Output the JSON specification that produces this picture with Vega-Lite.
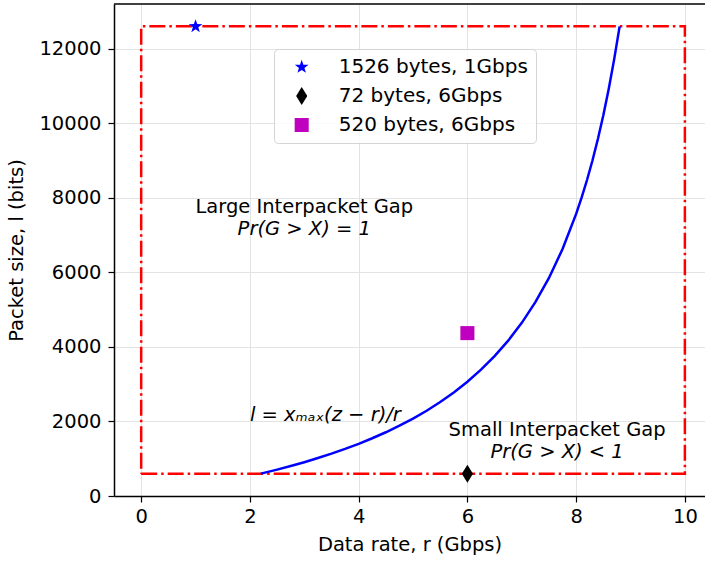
{
  "$schema": "https://vega.github.io/schema/vega-lite/v6.json",
  "width": 591,
  "height": 492,
  "autosize": {"type": "none"},
  "padding": {"left": 114, "top": 4, "right": 0, "bottom": 66},
  "config": {
    "font": "DejaVu Sans",
    "view": {"stroke": null},
    "axis": {
      "labelFont": "DejaVu Sans",
      "titleFont": "DejaVu Sans",
      "labelFontSize": 19.5,
      "titleFontSize": 19.5,
      "titleFontWeight": "normal",
      "labelColor": "black",
      "titleColor": "black",
      "tickColor": "black",
      "domainColor": "black",
      "domainWidth": 1.5,
      "tickWidth": 1.2,
      "tickSize": 6,
      "gridColor": "#e3e3e3",
      "gridWidth": 1
    },
    "legend": {
      "labelFont": "DejaVu Sans",
      "labelFontSize": 20,
      "labelColor": "black",
      "labelLimit": 400
    }
  },
  "datasets": {
    "bounds": [
      {"r": 0, "l": 600, "k": 0},
      {"r": 10, "l": 600, "k": 1},
      {"r": 10, "l": 12600, "k": 2},
      {"r": 0, "l": 12600, "k": 3},
      {"r": 0, "l": 600, "k": 4}
    ],
    "limit": [
      {"r": 2.2, "l": 600},
      {"r": 2.5, "l": 708},
      {"r": 2.8, "l": 824},
      {"r": 3.0, "l": 907},
      {"r": 3.25, "l": 1018},
      {"r": 3.5, "l": 1136},
      {"r": 3.75, "l": 1263},
      {"r": 4.0, "l": 1400},
      {"r": 4.25, "l": 1549},
      {"r": 4.5, "l": 1710},
      {"r": 4.75, "l": 1886},
      {"r": 5.0, "l": 2078},
      {"r": 5.25, "l": 2288},
      {"r": 5.5, "l": 2521},
      {"r": 5.75, "l": 2779},
      {"r": 6.0, "l": 3066},
      {"r": 6.25, "l": 3389},
      {"r": 6.5, "l": 3753},
      {"r": 6.75, "l": 4168},
      {"r": 7.0, "l": 4645},
      {"r": 7.25, "l": 5199},
      {"r": 7.5, "l": 5850},
      {"r": 7.75, "l": 6626},
      {"r": 8.0, "l": 7568},
      {"r": 8.1, "l": 8003},
      {"r": 8.2, "l": 8478},
      {"r": 8.3, "l": 9000},
      {"r": 8.4, "l": 9576},
      {"r": 8.5, "l": 10214},
      {"r": 8.6, "l": 10924},
      {"r": 8.7, "l": 11721},
      {"r": 8.8, "l": 12600}
    ],
    "cases": [
      {"r": 1, "l": 12600, "label": "1526 bytes, 1Gbps"},
      {"r": 6, "l": 600, "label": "72 bytes, 6Gbps"},
      {"r": 6, "l": 4370, "label": "520 bytes, 6Gbps"}
    ],
    "regions": [
      {"r": 3.0, "l": 7600, "txt": "Large Interpacket Gap"},
      {"r": 7.65, "l": 1600, "txt": "Small Interpacket Gap"}
    ],
    "probs": [
      {"r": 3.0, "l": 7010, "txt": "Pr(G > X) = 1"},
      {"r": 7.65, "l": 1010, "txt": "Pr(G > X) < 1"}
    ],
    "formula": [
      {"r": 2.0, "l": 2000, "txt": "l = xₘₐₓ(z − r)/r"}
    ]
  },
  "layer": [
    {
      "data": {"name": "bounds"},
      "mark": {"type": "line", "color": "#ff0000", "strokeWidth": 2.5, "strokeDash": [16, 4, 2.5, 4]},
      "encoding": {
        "x": {
          "field": "r",
          "type": "quantitative",
          "scale": {"domain": [-0.5, 10.37], "nice": false, "zero": false},
          "axis": {
            "title": "Data rate, r (Gbps)",
            "values": [0, 2, 4, 6, 8, 10],
            "grid": true,
            "labelPadding": 5,
            "titlePadding": 10
          }
        },
        "y": {
          "field": "l",
          "type": "quantitative",
          "scale": {"domain": [0, 13200], "nice": false, "zero": false},
          "axis": {
            "title": "Packet size, l (bits)",
            "values": [0, 2000, 4000, 6000, 8000, 10000, 12000],
            "format": "d",
            "grid": true,
            "labelPadding": 7,
            "titlePadding": 12
          }
        },
        "order": {"field": "k", "type": "quantitative"}
      }
    },
    {
      "data": {"name": "limit"},
      "mark": {"type": "line", "color": "#0000ff", "strokeWidth": 2.5},
      "encoding": {
        "x": {"field": "r", "type": "quantitative"},
        "y": {"field": "l", "type": "quantitative"}
      }
    },
    {
      "data": {"name": "cases"},
      "mark": {"type": "point", "filled": true, "opacity": 1, "size": 324, "strokeWidth": 0},
      "encoding": {
        "x": {"field": "r", "type": "quantitative"},
        "y": {"field": "l", "type": "quantitative"},
        "shape": {
          "field": "label",
          "type": "nominal",
          "scale": {
            "domain": ["1526 bytes, 1Gbps", "72 bytes, 6Gbps", "520 bytes, 6Gbps"],
            "range": [
              "M0,-0.8L0.188,-0.259L0.761,-0.247L0.304,0.099L0.47,0.647L0,0.32L-0.47,0.647L-0.304,0.099L-0.761,-0.247L-0.188,-0.259Z",
              "M0,-1L0.62,0L0,1L-0.62,0Z",
              "M-0.78,-0.78L0.78,-0.78L0.78,0.78L-0.78,0.78Z"
            ]
          },
          "legend": {
            "title": null,
            "orient": "none",
            "direction": "vertical",
            "legendX": 160,
            "legendY": 45,
            "padding": 8,
            "rowPadding": 9,
            "symbolSize": 324,
            "symbolStrokeWidth": 0,
            "symbolOffset": 9.7,
            "labelOffset": 27,
            "fillColor": "rgba(255,255,255,0.8)",
            "strokeColor": "#d4d4d4",
            "cornerRadius": 4
          }
        },
        "color": {
          "field": "label",
          "type": "nominal",
          "scale": {
            "domain": ["1526 bytes, 1Gbps", "72 bytes, 6Gbps", "520 bytes, 6Gbps"],
            "range": ["#0000ff", "#000000", "#bf00bf"]
          }
        }
      }
    },
    {
      "data": {"name": "regions"},
      "mark": {"type": "text", "fontSize": 19.5, "align": "center", "baseline": "alphabetic", "color": "black"},
      "encoding": {
        "x": {"field": "r", "type": "quantitative"},
        "y": {"field": "l", "type": "quantitative"},
        "text": {"field": "txt"}
      }
    },
    {
      "data": {"name": "probs"},
      "mark": {"type": "text", "fontSize": 19.5, "fontStyle": "italic", "align": "center", "baseline": "alphabetic", "color": "black"},
      "encoding": {
        "x": {"field": "r", "type": "quantitative"},
        "y": {"field": "l", "type": "quantitative"},
        "text": {"field": "txt"}
      }
    },
    {
      "data": {"name": "formula"},
      "mark": {"type": "text", "fontSize": 19.5, "fontStyle": "italic", "align": "left", "baseline": "alphabetic", "color": "black"},
      "encoding": {
        "x": {"field": "r", "type": "quantitative"},
        "y": {"field": "l", "type": "quantitative"},
        "text": {"field": "txt"}
      }
    },
    {
      "data": {"values": [{}]},
      "mark": {"type": "rule", "color": "black", "strokeWidth": 1.5},
      "encoding": {"y": {"datum": 13200}}
    }
  ]
}
